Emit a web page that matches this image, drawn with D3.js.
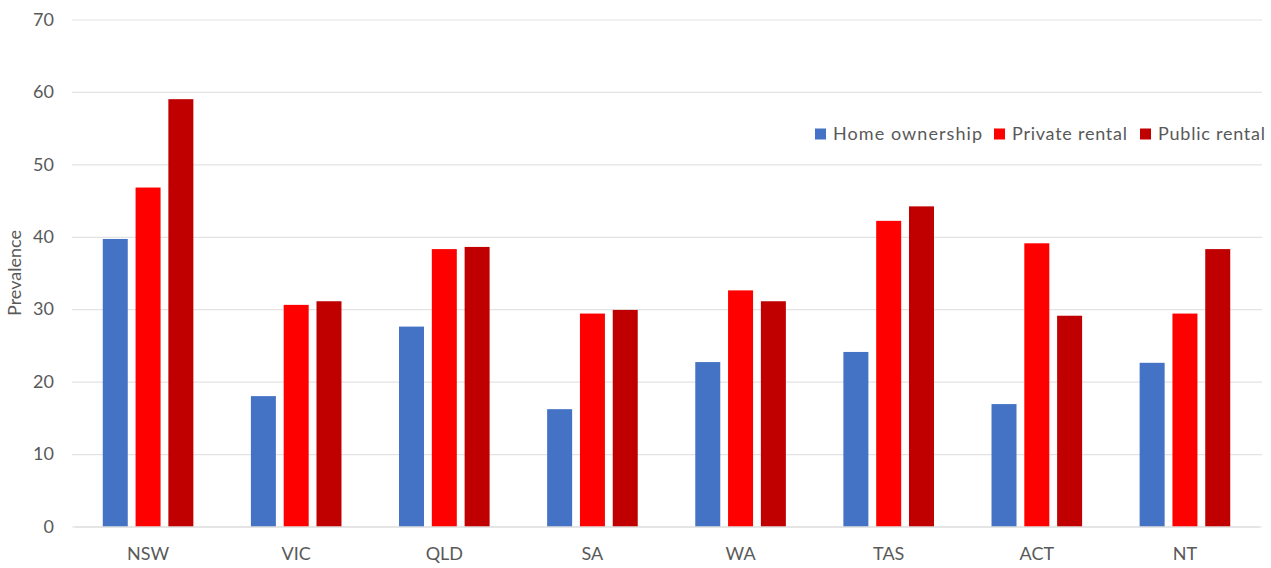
<!DOCTYPE html>
<html><head><meta charset="utf-8">
<script src="https://cdn.jsdelivr.net/npm/d3@7"></script>
<style>body{margin:0;background:#fff;} svg{display:block;font-family:Lato,"Open Sans",sans-serif;}</style>
</head><body><svg id="c" width="1271" height="568"></svg>
<script>
const categories = ["NSW","VIC","QLD","SA","WA","TAS","ACT","NT"];
const seriesNames = ["Home ownership","Private rental","Public rental"];
const homeOwnership = [39.7,18.0,27.6,16.2,22.7,24.1,16.9,22.6];
const privateRental = [46.8,30.6,38.3,29.4,32.6,42.2,39.1,29.4];
const publicRental  = [59.0,31.1,38.6,29.9,31.1,44.2,29.1,38.3];
const yTicks = [0,10,20,30,40,50,60,70];
const colors = ["#4472C4","#FF0000","#C00000"];

const svg = d3.select("#c");
const x = d3.scaleBand().domain(categories).range([74,1259]).paddingInner(0).paddingOuter(0);
const y = d3.scaleLinear().domain([0,70]).range([526.5,19.5]);
const xs = d3.scaleBand().domain(seriesNames).range([0, x.bandwidth()]).paddingInner(0.238).paddingOuter(0.877);

// gridlines
const yAxis = d3.axisLeft(y).tickValues(yTicks).tickSize(-(1262-72)).tickPadding(18);
const gy = svg.append("g").attr("transform","translate(72,0)").call(yAxis);
gy.select(".domain").remove();
gy.selectAll(".tick line").attr("stroke","#e3e3e3").attr("stroke-width",1.2);
gy.selectAll(".tick text").attr("fill","#595959").attr("font-size",18).attr("font-family","Lato, sans-serif");

const data = categories.map((c,i)=>({c, vals:[homeOwnership[i],privateRental[i],publicRental[i]]}));
const g = svg.append("g").selectAll("g").data(data).join("g").attr("transform",d=>`translate(${x(d.c)},0)`);
g.selectAll("rect").data(d=>d.vals.map((v,j)=>({v,s:seriesNames[j],j}))).join("rect")
  .attr("x",d=>xs(d.s)).attr("width",xs.bandwidth())
  .attr("y",d=>y(d.v)).attr("height",d=>y(0)-y(d.v))
  .attr("fill",d=>colors[d.j]);

const xAxis = d3.axisBottom(x).tickSize(0).tickPadding(21);
const gx = svg.append("g").attr("transform",`translate(0,${y(0)})`).call(xAxis);
gx.select(".domain").attr("stroke","#d9d9d9");
gx.selectAll(".tick text").attr("fill","#595959").attr("font-size",18).attr("font-family","Lato, sans-serif");

svg.append("text").attr("transform","translate(15,273) rotate(-90)").attr("text-anchor","middle")
  .attr("dy","0.35em").attr("fill","#595959").attr("font-size",18).text("Prevalence");

// legend
const legendX = [815, 994, 1140];
const legendW = [149, 115, 107];
const lg = svg.append("g").selectAll("g").data(seriesNames).join("g").attr("transform",(d,i)=>`translate(${legendX[i]},134)`);
lg.append("rect").attr("x",0).attr("y",-5.5).attr("width",11).attr("height",11).attr("fill",(d,i)=>colors[i]);
lg.append("text").attr("x",18).attr("y",0).attr("dy","0.35em").attr("fill","#595959").attr("font-size",18)
  .attr("textLength",(d,i)=>legendW[i]).attr("lengthAdjust","spacing").text(d=>d);
</script></body></html>
